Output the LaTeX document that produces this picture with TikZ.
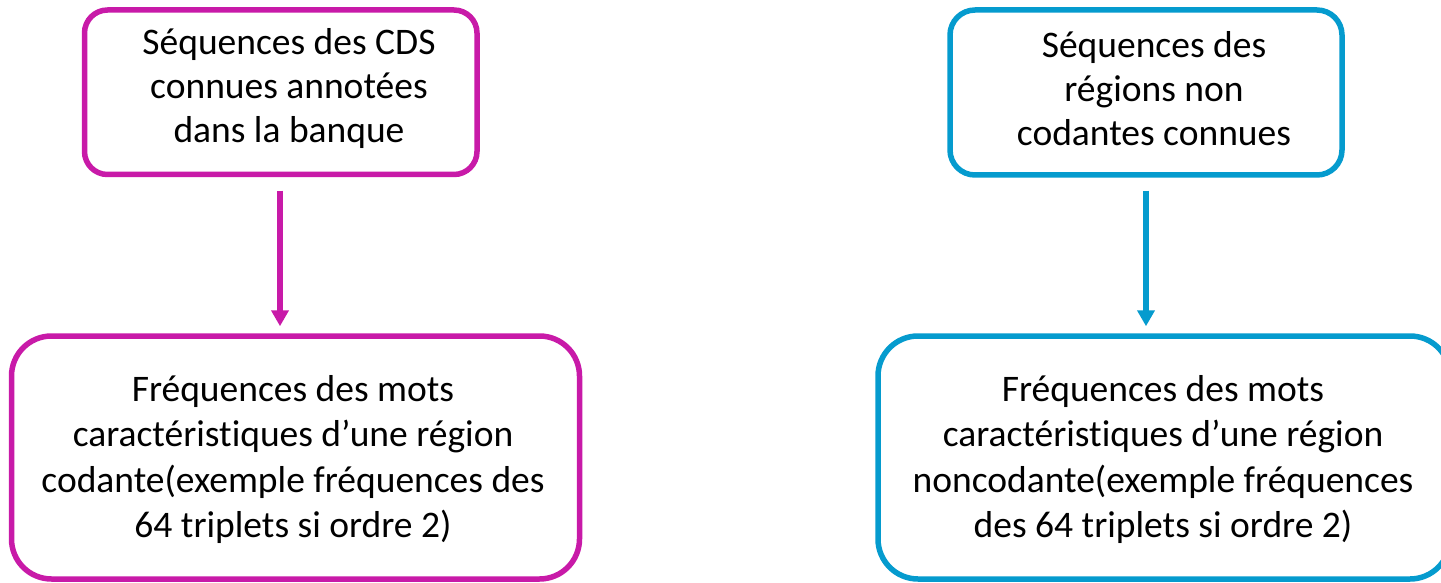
\documentclass[tikz,border=0pt]{standalone}
\usepackage{fontspec}
\setmainfont{Carlito}[Ligatures=NoCommon]
\usetikzlibrary{arrows.meta}
\definecolor{mag}{RGB}{200,26,168}
\definecolor{blu}{RGB}{5,155,206}
\tikzset{
  box/.style={draw=#1, line width=5.5pt, fill=white, inner sep=0pt},
  txt/.style={align=center, inner sep=0pt, font=\fontsize{37.5}{44}\selectfont},
  txtb/.style={align=center, inner sep=0pt, font=\fontsize{37.5}{45.5}\selectfont},
  conn/.style={draw=#1, line width=5.5pt, -{Triangle[width=17pt,length=16pt]}}
}
\begin{document}
\begin{tikzpicture}[x=1pt,y=-1pt]
\useasboundingbox (0,0) rectangle (1441,583);
\node[box=mag, rounded corners=23pt, minimum width=392.5pt, minimum height=164.5pt] (tl) at (280.75,92.25) {};
\node[box=blu, rounded corners=25pt, minimum width=392pt, minimum height=165pt] (tr) at (1146,92.5) {};
\node[box=mag, rounded corners=40pt, minimum width=568pt, minimum height=243pt] (bl) at (295.5,457.5) {};
\node[box=blu, rounded corners=40pt, minimum width=572pt, minimum height=243pt] (br) at (1164,457.5) {};
\node[txt] (tlt) at (289,88.5) {Séquences des CDS\\connues annotées\\dans la banque};
\node[txt] (trt) at (1154,88.5) {Séquences des\\régions non\\codantes connues};
\node[txtb] (blt) at (293,459.5) {Fréquences des mots\\caractérist\kern0pt iques d’une région\\codante(exemple fréquences des\\64 triplets si ordre 2)};
\node[txtb] (brt) at (1163,459.5) {Fréquences des mots\\caractérist\kern0pt iques d’une région\\noncodante(exemple fréquences\\des 64 triplets si ordre 2)};
\draw[conn=mag] ([yshift=-13.5pt]tl.south -| 280,0) -- ([yshift=7pt]bl.north -| 280,0);
\draw[conn=blu] ([yshift=-13pt]tr.south) -- ([yshift=7pt]br.north -| tr.south);
\end{tikzpicture}
\end{document}
